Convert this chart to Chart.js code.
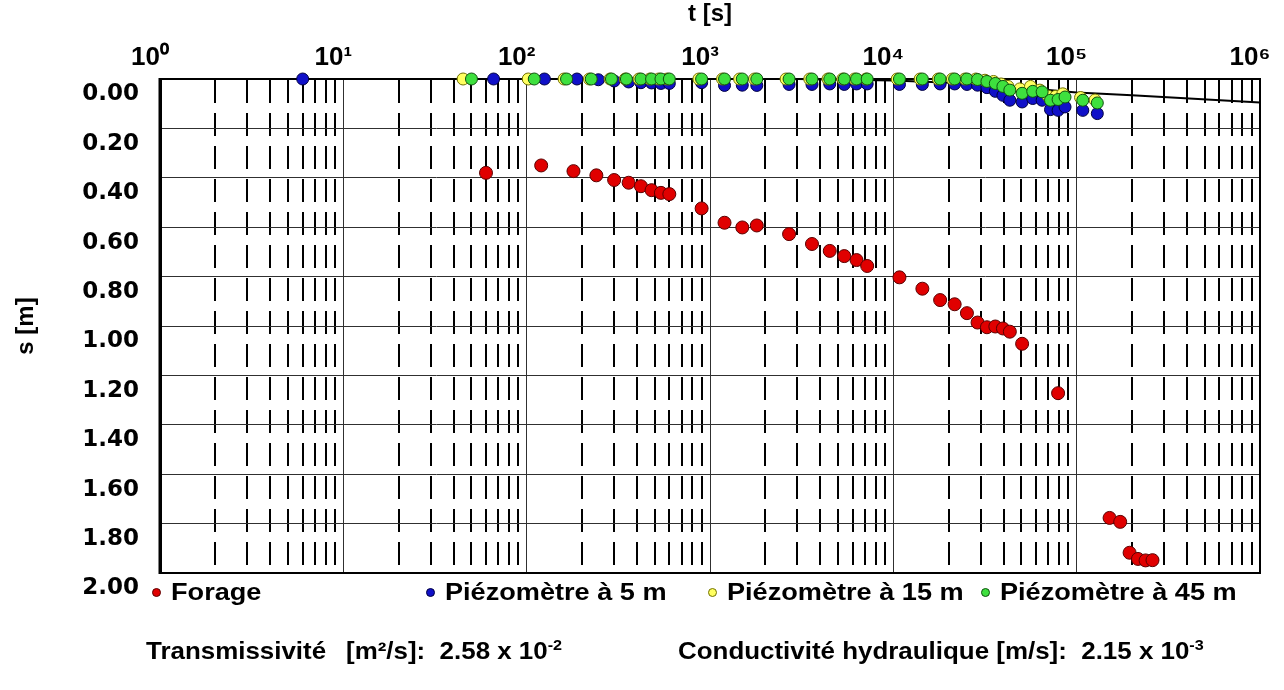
<!DOCTYPE html>
<html><head><meta charset="utf-8">
<script src="https://cdn.jsdelivr.net/npm/chart.js@4.4.1/dist/chart.umd.min.js"></script>
<style>
html,body{margin:0;padding:0;background:#fff;}
#wrap{position:relative;width:1284px;height:690px;overflow:hidden;background:#fff;}
#c{position:absolute;left:0;top:0;}
.lgt{position:absolute;font:bold 24px "Liberation Sans",Arial,sans-serif;color:#000;white-space:nowrap;line-height:24px;transform:scaleX(1.13);transform-origin:0 50%;}
.mk{position:absolute;width:9px;height:9px;border-radius:50%;box-sizing:border-box;}
.ptx{position:absolute;font:bold 24px "Liberation Sans",Arial,sans-serif;color:#000;white-space:nowrap;line-height:24px;transform:scaleX(1.08);transform-origin:0 50%;}
.ptx sup{font-size:15px;position:relative;top:-2px;vertical-align:top;line-height:15px;}
</style></head>
<body><div id="wrap"><canvas id="c" width="1284" height="690"></canvas><div id="legend"></div><div id="params"></div></div>
<script>
// ---- data ----
const decadeValues = [1, 10, 100, 1000, 10000, 100000, 1000000];
const tLabels = ['10\u2070','10\u00B9','10\u00B2','10\u00B3','10\u2074','10\u2075','10\u2076'];
const sValues = [0, 0.2, 0.4, 0.6, 0.8, 1.0, 1.2, 1.4, 1.6, 1.8, 2.0];
const sLabels = ['0.00','0.20','0.40','0.60','0.80','1.00','1.20','1.40','1.60','1.80','2.00'];

const seriesNames = ['Forage', 'Piézomètre à 5 m', 'Piézomètre à 15 m', 'Piézomètre à 45 m'];

const forageT = [60,120,180,240,300,360,420,480,540,600,900,1200,1500,1800,2700,3600,4500,5400,6300,7200,10800,14400,18000,21600,25200,28800,32400,36000,39600,43200,50400,79200,151200,172800,194400,216000,237600,259200];
const forageS = [0.380,0.350,0.373,0.390,0.409,0.420,0.434,0.450,0.461,0.466,0.524,0.582,0.601,0.593,0.628,0.668,0.696,0.717,0.733,0.757,0.803,0.849,0.895,0.912,0.948,0.986,1.005,1.002,1.010,1.023,1.072,1.272,1.777,1.793,1.918,1.943,1.949,1.948];

const piezo5T = [6,66,125,188,246,300,360,420,480,540,600,900,1200,1500,1800,2700,3600,4500,5400,6300,7200,10800,14400,18000,21600,25200,28800,32400,36000,39600,43200,50400,57600,64800,72000,79200,86400,108000,129600];
const piezo5S = [0,0,0,0,0.003,0.008,0.012,0.015,0.016,0.018,0.018,0.015,0.026,0.025,0.026,0.022,0.022,0.020,0.022,0.020,0.020,0.022,0.022,0.020,0.020,0.022,0.025,0.035,0.050,0.066,0.086,0.093,0.079,0.086,0.124,0.127,0.113,0.127,0.140];

const piezo15T = [45,102,160,220,285,345,410,470,525,585,870,1170,1450,1750,2600,3500,4400,5300,6150,7100,10500,14000,17600,21000,24600,28200,31600,35200,38700,42200,49000,56000,63000,70000,77000,84000,105000,126000];
const piezo15S = [0,0,0,0,0,0,0,0,0,0,0,0,0,0,0,0,0,0,0,0,0,0,0,0,0,0,0.005,0.010,0.020,0.030,0.040,0.030,0.045,0.070,0.070,0.060,0.075,0.085];

const piezo45T = [50,110,165,225,290,350,420,480,540,600,900,1200,1500,1800,2700,3600,4500,5400,6300,7200,10800,14400,18000,21600,25200,28800,32400,36000,39600,43200,50400,57600,64800,72000,79200,86400,108000,129600];
const piezo45S = [0,0,0,0,0,0,0,0,0,0,0,0,0,0,0,0,0,0,0,0,0,0,0,0,0,0.002,0.010,0.018,0.030,0.045,0.058,0.050,0.052,0.086,0.083,0.073,0.086,0.097];

const theoryT = [1,3000,10000,30000,100000,200000,1000000];
const theoryS = [0,0,0.006,0.020,0.055,0.066,0.095];

const transmissivity = {label:'Transmissivité', unit:'[m²/s]:', mant:'2.58 x 10', exp:'-2'};
const conductivity = {label:'Conductivité hydraulique [m/s]:', mant:'2.15 x 10', exp:'-3'};

// ---- build ----
const pts = (T,S) => T.map((t,i)=>({x:t, y:S[i]}));
const BOLD = 'Liberation Sans';

const frame = {
  id:'frame',
  beforeDatasetsDraw(chart){
    const {ctx, chartArea:a} = chart;
    ctx.save();
    ctx.strokeStyle = '#000';
    ctx.lineWidth = 2;
    ctx.strokeRect(a.left, a.top, a.right - a.left, a.bottom - a.top);
    ctx.lineWidth = 3;
    ctx.beginPath(); ctx.moveTo(a.left, a.top - 1); ctx.lineTo(a.left, a.bottom + 1); ctx.stroke();
    ctx.restore();
  }
};

const pointDs = (label, T, S, fill, edge, r, order) => ({
  type:'scatter', label, data:pts(T,S), showLine:false,
  backgroundColor:fill, borderColor:edge, borderWidth:1,
  pointRadius:r, pointHoverRadius:r, order, clip:false
});

const chart = new Chart(document.getElementById('c'), {
  type:'scatter',
  data:{
    datasets:[
      pointDs(seriesNames[0], forageT, forageS, '#e00000', '#5a0000', 6.5, 0),
      pointDs(seriesNames[1], piezo5T, piezo5S, '#1010c8', '#000040', 6, 3),
      pointDs(seriesNames[2], piezo15T, piezo15S, '#ffff60', '#707000', 6, 2),
      pointDs(seriesNames[3], piezo45T, piezo45S, '#3ee03e', '#105010', 6, 1),
      {type:'line', data:pts(theoryT, theoryS), borderColor:'#000', borderWidth:2,
       pointRadius:0, fill:false, tension:0, order:5, clip:false}
    ]
  },
  options:{
    responsive:false, animation:false, devicePixelRatio:1,
    layout:{padding:{left:0, top:0, right:24, bottom:117}},
    plugins:{legend:{display:false}, tooltip:{enabled:false}},
    scales:{
      x:{
        type:'logarithmic', position:'top', min:1, max:1000000,
        afterBuildTicks(scale){
          const t = [];
          for (let e = 0; e < 6; e++) {
            for (let m = 1; m < 10; m++) t.push({value:m * decadeValues[e], major:m === 1});
          }
          t.push({value:decadeValues[6], major:true});
          scale.ticks = t;
        },
        afterFit(scale){ scale.height = 79; scale.paddingLeft = 0; scale.paddingRight = 0; },
        ticks:{
          autoSkip:false, maxRotation:0, minRotation:0, padding:6, labelOffset:-10,
          color:'#000', font:{family:BOLD, size:26, weight:'bold'},
          callback(v){ const i = decadeValues.indexOf(v); return i >= 0 ? tLabels[i] : ''; }
        },
        grid:{
          drawTicks:false,
          color:(c)=> (c.tick && c.tick.major) ? '#303030' : '#000',
          lineWidth:(c)=> (c.tick && c.tick.major) ? 1 : 2
        },
        border:{color:'#000', width:2, dash:(c)=> (c.tick && !c.tick.major) ? [23,10] : []},
        title:{display:true, text:'t [s]', color:'#000', font:{family:BOLD, size:24, weight:'bold'}, padding:{top:0, bottom:0}}
      },
      y:{
        type:'linear', reverse:true, min:0, max:2,
        afterBuildTicks(scale){ scale.ticks = sValues.map(v=>({value:v})); },
        afterFit(scale){ scale.width = 160; },
        ticks:{
          padding:21, labelOffset:15.5, color:'#000',
          font:{family:'DejaVu Sans', size:23, weight:'bold'},
          callback:(v,i)=> sLabels[i]
        },
        grid:{drawTicks:false, color:'#303030', lineWidth:1},
        border:{color:'#000', width:3},
        title:{display:true, text:'s [m]', color:'#000', font:{family:BOLD, size:24, weight:'bold'}, padding:{top:12, bottom:0}}
      }
    }
  },
  plugins:[frame]
});

// ---- legend (from the chart's datasets) ----
const legendX = [156, 430, 712, 985];
const legendY = 592;
const lg = document.getElementById('legend');
chart.data.datasets.filter(d => d.label).forEach((d, i) => {
  const mk = document.createElement('div');
  mk.className = 'mk';
  mk.style.left = (legendX[i] - 4.5) + 'px';
  mk.style.top = (legendY - 4.5) + 'px';
  mk.style.background = d.backgroundColor;
  mk.style.border = '1px solid ' + d.borderColor;
  lg.appendChild(mk);
  const tx = document.createElement('div');
  tx.className = 'lgt';
  tx.style.left = (legendX[i] + 15) + 'px';
  tx.style.top = (legendY - 12) + 'px';
  tx.textContent = d.label;
  lg.appendChild(tx);
});

// ---- parameters line ----
const pr = document.getElementById('params');
const addText = (x, html) => { const e = document.createElement('div'); e.className = 'ptx'; e.style.left = x + 'px'; e.style.top = '639px'; e.innerHTML = html; pr.appendChild(e); };
addText(146, transmissivity.label);
addText(346, transmissivity.unit + '&nbsp; ' + transmissivity.mant + '<sup>' + transmissivity.exp + '</sup>');
addText(678, conductivity.label + '&nbsp; ' + conductivity.mant + '<sup>' + conductivity.exp + '</sup>');
</script>
</body></html>
